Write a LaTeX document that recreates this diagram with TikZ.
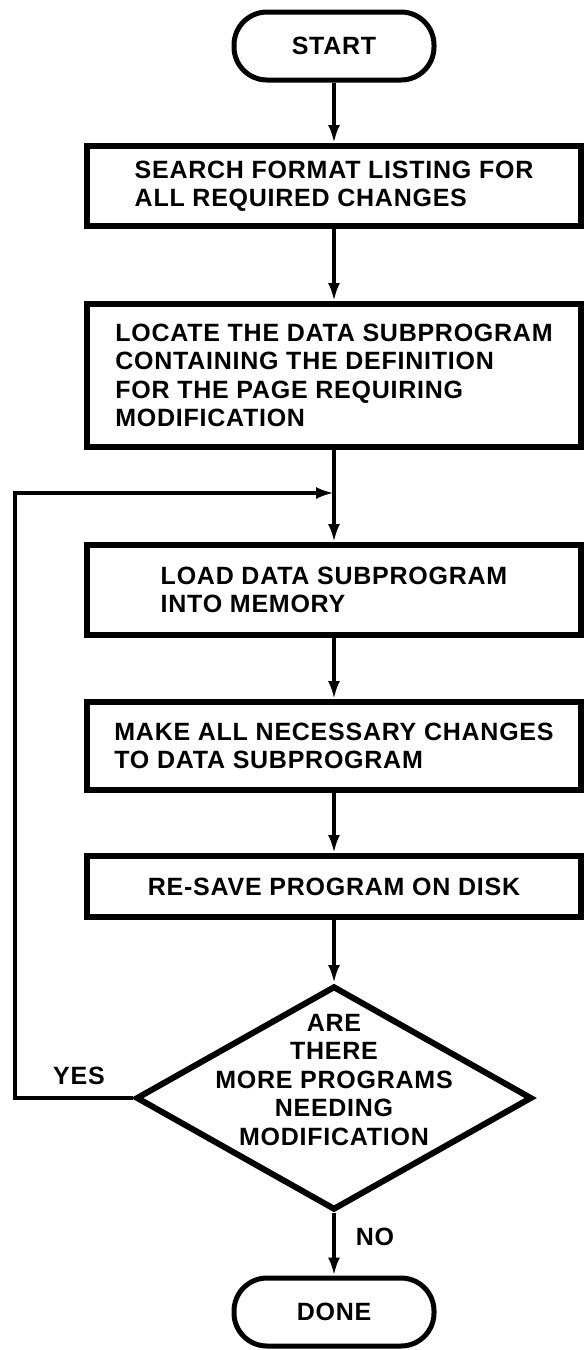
\documentclass[tikz,border=0pt]{standalone}
\usepackage{fontspec}
\newfontfamily\fluxofont{Liberation Sans}[LetterSpace=3]
\usetikzlibrary{shapes.geometric,arrows.meta}

\begin{document}
\begin{tikzpicture}[x=1pt,y=-1pt,
  every node/.style={font=\fluxofont\bfseries\fontsize{25}{28.5}\selectfont,inner sep=0pt},
  terminal/.style={draw,line width=5pt,rounded corners=33pt,minimum width=200pt,minimum height=68pt},
  passo/.style={draw,line width=6pt,minimum width=494pt,align=left},
  decisao/.style={draw,diamond,line width=6pt,minimum width=396pt,minimum height=224pt},
  seta/.style={line width=3.5pt,-{Latex[length=18pt,width=12pt]}},
  linha/.style={line width=3.5pt}]

\useasboundingbox (0,0) rectangle (586,1350);

% terminais
\node[terminal] (inicio) at (334,46) {START};
\node[terminal] (fim) at (334,1312) {DONE};

% caixas
\node[passo,minimum height=80pt] (busca) at (334,186) {SEARCH FORMAT LISTING FOR\\ALL REQUIRED CHANGES};
\node[passo,minimum height=143pt] (localiza) at (334,375.5) {LOCATE THE DATA SUBPROGRAM\\CONTAINING THE DEFINITION\\FOR THE PAGE REQUIRING\\MODIFICATION};
\node[passo,minimum height=90pt] (carrega) at (334,590) {LOAD DATA SUBPROGRAM\\INTO MEMORY};
\node[passo,minimum height=88pt] (altera) at (334,746) {MAKE ALL NECESSARY CHANGES\\TO DATA SUBPROGRAM};
\node[passo,minimum height=61pt] (salva) at (334,886.5) {RE-SAVE PROGRAM ON DISK};

% decisao
\node[decisao] (teste) at (334,1098) {};
\node[align=center] (pergunta) at (334,1080) {ARE\\THERE\\MORE PROGRAMS\\NEEDING\\MODIFICATION};

% setas
\draw[seta] (inicio) -- (busca);
\draw[seta] (busca) -- (localiza);
\coordinate (junta) at (334,493);
\coordinate (canto) at (15,493);
\draw[linha] (localiza) -- (junta);
\draw[seta] (junta) -- (carrega);
\draw[seta] (carrega) -- (altera);
\draw[seta] (altera) -- (salva);
\draw[seta] (salva) -- (teste);
\draw[seta] (teste) -- (fim);

% volta (YES)
\draw[seta] (teste.west) -| (canto) -- (junta);

% rotulos
\node (sim) at (79,1076) {YES};
\node (nao) at (375,1237) {NO};

\end{tikzpicture}
\end{document}
